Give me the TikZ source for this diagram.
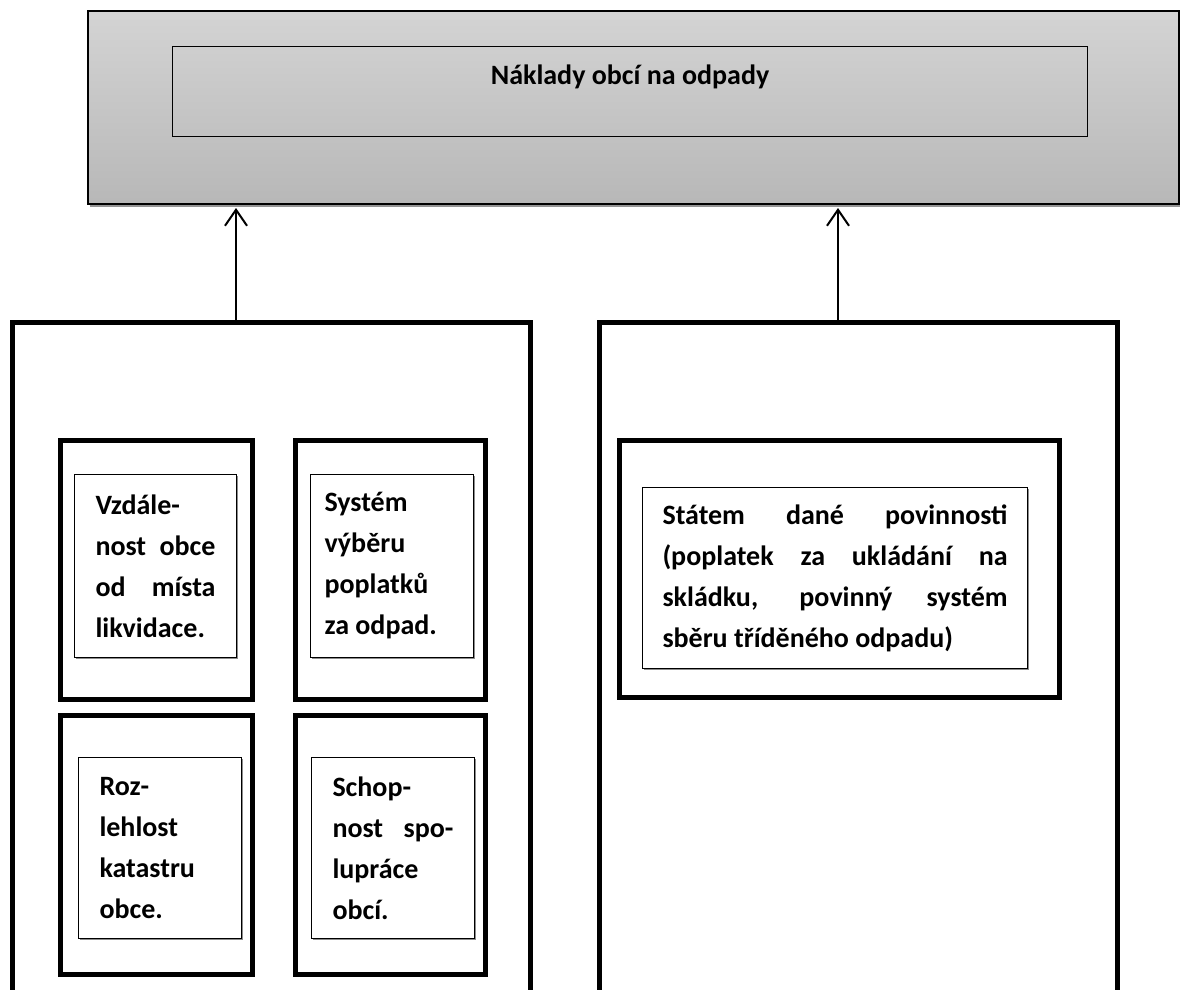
\documentclass[tikz,border=0pt]{standalone}
\usepackage{fontspec}
\setmainfont{Carlito}
\usetikzlibrary{arrows.meta,shadows}

\begin{document}
\begin{tikzpicture}[
  x=1pt, y=-1pt,
  boxfont/.style={font=\fontsize{28}{41}\selectfont\bfseries},
  soft/.style={drop shadow={shadow xshift=1pt, shadow yshift=-1.5pt, fill=black!45, opacity=1}},
  frame/.style={draw=black, line width=2pt, top color=black!17, bottom color=black!28,
    anchor=north west, inner sep=0pt,
    drop shadow={shadow xshift=2pt, shadow yshift=-3pt, fill=black!42, opacity=1}},
  titlebox/.style={draw=black, line width=1pt, anchor=north west, inner sep=0pt,
    minimum width=915pt, minimum height=90pt, text height=20pt, text depth=34pt, boxfont},
  group/.style={draw=black, line width=5pt, fill=white, anchor=north west, inner sep=0pt,
    minimum width=518pt, minimum height=700pt},
  holder/.style={draw=black, line width=5pt, fill=white, soft, anchor=north west, inner sep=0pt},
  factor/.style={draw=black, line width=1pt, fill=white, soft, anchor=north west, inner ysep=0pt,
    inner xsep=21pt, align=justify, boxfont},
  arrow/.style={-{Straight Barb[length=16pt, width=22pt]}, line width=2pt}
]
\useasboundingbox (0,0) rectangle (1180,990);

\node[frame, minimum width=1091pt, minimum height=193pt] (costs) at (87,10) {};
\node[titlebox] (title) at (172,46) {Náklady obcí na odpady};

\node[group] (local) at (10,320) {};
\node[group] (state) at (597,320) {};

\node[holder, minimum width=192pt, minimum height=259pt] (distancebox) at (58,438) {};
\node[holder, minimum width=190pt, minimum height=259pt] (feesbox) at (293,438) {};
\node[holder, minimum width=192pt, minimum height=259pt] (areabox) at (58,713) {};
\node[holder, minimum width=190pt, minimum height=259pt] (cooperationbox) at (293,713) {};
\node[holder, minimum width=440pt, minimum height=257pt] (dutiesbox) at (617,438) {};

\node[factor, text width=120pt, minimum height=183pt] (distance) at (74,474)
  {Vzdále-\linebreak nost obce\linebreak od místa\linebreak likvidace.};
\node[factor, text width=135pt, inner xsep=14pt, minimum height=183pt] (fees) at (310,474)
  {Systém\linebreak výběru\linebreak poplatků\linebreak za odpad.};
\node[factor, text width=121pt, minimum height=181pt] (area) at (78,757)
  {Roz-\linebreak lehlost\linebreak katastru\linebreak obce.};
\node[factor, text width=121pt, minimum height=181pt] (cooperation) at (311,757)
  {Schop-\linebreak nost spo-\linebreak lupráce\linebreak obcí.};
\node[factor, text width=345pt, inner xsep=20pt, minimum height=181pt] (duties) at (642,487)
  {Státem dané povinnosti (poplatek za ukládání na skládku, povinný systém sběru tříděného odpadu)};

\coordinate (leftx) at (236,0);
\coordinate (rightx) at (838,0);
\draw[arrow, shorten >=3pt] (local.north -| leftx) -- (costs.south -| leftx);
\draw[arrow, shorten >=3pt] (state.north -| rightx) -- (costs.south -| rightx);
\end{tikzpicture}
\end{document}
